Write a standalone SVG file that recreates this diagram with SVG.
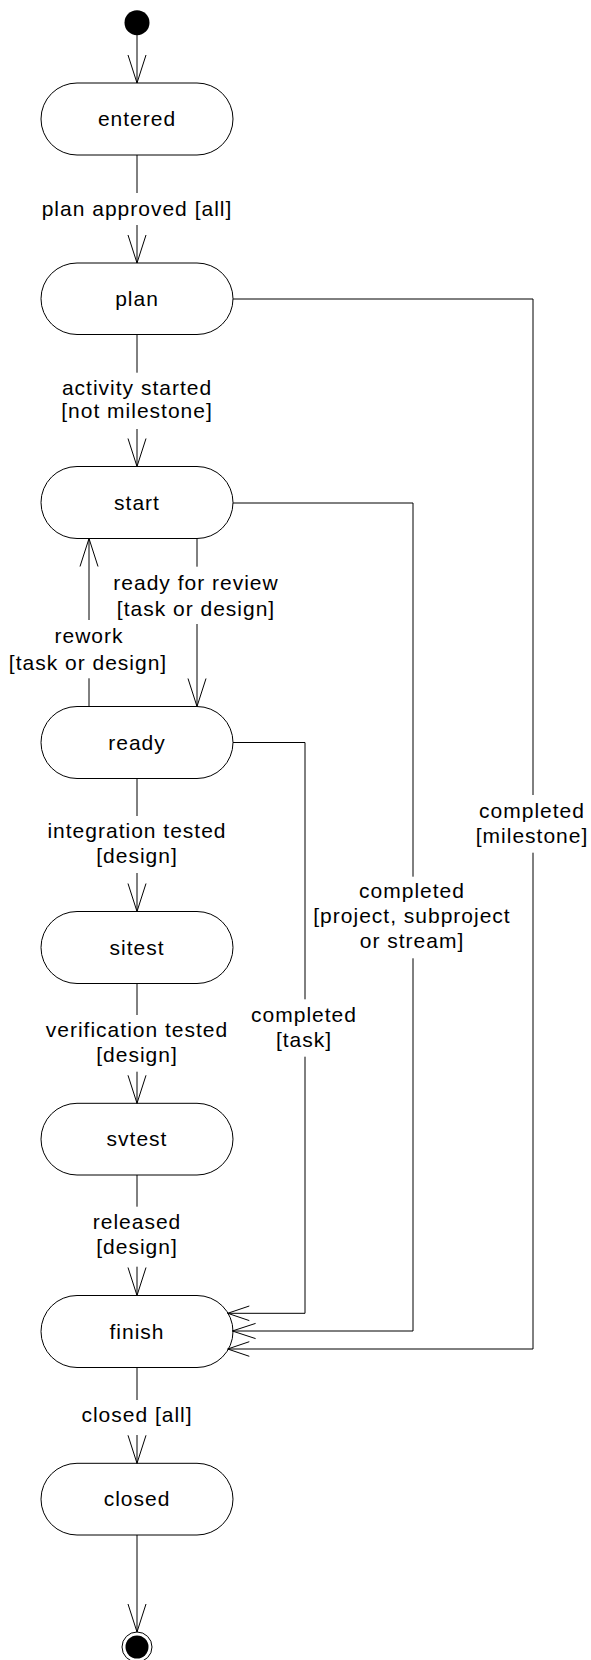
<svg xmlns="http://www.w3.org/2000/svg" width="591" height="1660" viewBox="0 0 591 1660">
  <style>
    .state rect { fill: #ffffff; stroke: #000000; stroke-width: 1; }
    text { font-family: "Liberation Sans", Arial, sans-serif; font-size: 21px; letter-spacing: 1px; fill: #000000; text-anchor: middle; }
    .edge { fill: none; stroke: #000000; stroke-width: 1; }
    .head { fill: none; stroke: #000000; stroke-width: 1; }
  </style>
  <rect width="591" height="1660" fill="#ffffff"/>

  <!-- pseudo states -->
  <g id="initial">
    <circle cx="137" cy="22.7" r="12.5" fill="#000000"/>
  </g>
  <g id="final">
    <circle cx="137" cy="1647" r="15" fill="#ffffff" stroke="#000000" stroke-width="1"/>
    <circle cx="137" cy="1647" r="11.5" fill="#000000"/>
  </g>

  <!-- states -->
  <g id="entered" class="state">
    <rect x="41" y="83" width="192" height="72" rx="36" ry="36"/>
    <text x="137" y="126">entered</text>
  </g>
  <g id="plan" class="state">
    <rect x="41" y="263" width="192" height="71.5" rx="36" ry="36"/>
    <text x="137" y="306">plan</text>
  </g>
  <g id="start" class="state">
    <rect x="41" y="466.5" width="192" height="72" rx="36" ry="36"/>
    <text x="137" y="509.5">start</text>
  </g>
  <g id="ready" class="state">
    <rect x="41" y="706.5" width="192" height="72" rx="36" ry="36"/>
    <text x="137" y="749.5">ready</text>
  </g>
  <g id="sitest" class="state">
    <rect x="41" y="911.5" width="192" height="72" rx="36" ry="36"/>
    <text x="137" y="954.5">sitest</text>
  </g>
  <g id="svtest" class="state">
    <rect x="41" y="1103.3" width="192" height="71.7" rx="36" ry="36"/>
    <text x="137" y="1146">svtest</text>
  </g>
  <g id="finish" class="state">
    <rect x="41" y="1295.5" width="192" height="72" rx="36" ry="36"/>
    <text x="137" y="1338.5">finish</text>
  </g>
  <g id="closed" class="state">
    <rect x="41" y="1463.3" width="192" height="71.7" rx="36" ry="36"/>
    <text x="137" y="1506">closed</text>
  </g>

  <!-- transitions -->
  <g id="connectors">
    <!-- initial -> entered -->
    <line class="edge" x1="137" y1="35" x2="137" y2="83"/>
    <polyline class="head" points="128,55 137,83 146,55"/>

    <!-- entered -> plan -->
    <line class="edge" x1="137" y1="155" x2="137" y2="193"/>
    <line class="edge" x1="137" y1="225" x2="137" y2="263"/>
    <polyline class="head" points="128,235 137,263 146,235"/>
    <text x="137" y="216">plan approved [all]</text>

    <!-- plan -> start -->
    <line class="edge" x1="137" y1="334.5" x2="137" y2="372.7"/>
    <line class="edge" x1="137" y1="429" x2="137" y2="466.5"/>
    <polyline class="head" points="128,438.5 137,466.5 146,438.5"/>
    <text x="137" y="395">activity started</text>
    <text x="137" y="418">[not milestone]</text>

    <!-- start -> ready -->
    <line class="edge" x1="197" y1="538.5" x2="197" y2="566.7"/>
    <line class="edge" x1="197" y1="624" x2="197" y2="706.5"/>
    <polyline class="head" points="188,678.5 197,706.5 206,678.5"/>
    <text x="196" y="590">ready for review</text>
    <text x="196" y="615.5">[task or design]</text>

    <!-- ready -> start (rework) -->
    <line class="edge" x1="89" y1="706.5" x2="89" y2="678.3"/>
    <line class="edge" x1="89" y1="620" x2="89" y2="538.5"/>
    <polyline class="head" points="80,566.5 89,538.5 98,566.5"/>
    <text x="89" y="643">rework</text>
    <text x="88" y="669.5">[task or design]</text>

    <!-- ready -> sitest -->
    <line class="edge" x1="137" y1="778.5" x2="137" y2="816"/>
    <line class="edge" x1="137" y1="873" x2="137" y2="911.5"/>
    <polyline class="head" points="128,883.5 137,911.5 146,883.5"/>
    <text x="137" y="838">integration tested</text>
    <text x="137" y="863">[design]</text>

    <!-- sitest -> svtest -->
    <line class="edge" x1="137" y1="983.5" x2="137" y2="1015"/>
    <line class="edge" x1="137" y1="1071.7" x2="137" y2="1103.3"/>
    <polyline class="head" points="128,1075.3 137,1103.3 146,1075.3"/>
    <text x="137" y="1036.7">verification tested</text>
    <text x="137" y="1062">[design]</text>

    <!-- svtest -> finish -->
    <line class="edge" x1="137" y1="1175" x2="137" y2="1206.7"/>
    <line class="edge" x1="137" y1="1266.7" x2="137" y2="1295.5"/>
    <polyline class="head" points="128,1267.5 137,1295.5 146,1267.5"/>
    <text x="137" y="1229">released</text>
    <text x="137" y="1254">[design]</text>

    <!-- finish -> closed -->
    <line class="edge" x1="137" y1="1367.5" x2="137" y2="1400"/>
    <line class="edge" x1="137" y1="1435" x2="137" y2="1463.3"/>
    <polyline class="head" points="128,1435.3 137,1463.3 146,1435.3"/>
    <text x="137" y="1421.7">closed [all]</text>

    <!-- closed -> final -->
    <line class="edge" x1="137" y1="1535" x2="137" y2="1632"/>
    <polyline class="head" points="128,1604 137,1632 146,1604"/>

    <!-- ready -> finish (task) -->
    <polyline class="edge" points="233,742.5 305,742.5 305,999.3"/>
    <polyline class="edge" points="305,1056.7 305,1313.3 227.7,1313.3"/>
    <polyline class="head" points="249.3,1306 227.7,1313.3 249.3,1320.6"/>
    <text x="304" y="1021.7">completed</text>
    <text x="304" y="1046.7">[task]</text>

    <!-- start -> finish (project, subproject or stream) -->
    <polyline class="edge" points="233,503 413,503 413,876.7"/>
    <polyline class="edge" points="413,958.3 413,1331 232.3,1331"/>
    <polyline class="head" points="255.6,1323.4 232.3,1331 255.6,1338.6"/>
    <text x="412" y="897.7">completed</text>
    <text x="412" y="922.7">[project, subproject</text>
    <text x="412" y="948.3">or stream]</text>

    <!-- plan -> finish (milestone) -->
    <polyline class="edge" points="233,299 533,299 533,795"/>
    <polyline class="edge" points="533,852.7 533,1349 227.7,1349"/>
    <polyline class="head" points="249.3,1341.7 227.7,1349 249.3,1356.3"/>
    <text x="532" y="817.7">completed</text>
    <text x="532" y="843.3">[milestone]</text>
  </g>
</svg>
